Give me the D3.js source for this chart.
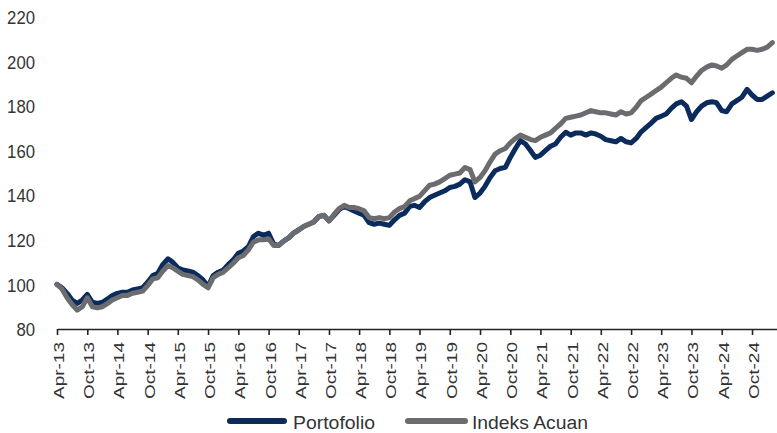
<!DOCTYPE html>
<html><head><meta charset="utf-8">
<script src="https://cdn.jsdelivr.net/npm/d3@7"></script>
<style>html,body{margin:0;padding:0;background:#fff;} svg{display:block;}</style>
</head><body><svg id="chart" width="777" height="433"></svg>
<script>
// ---- data ----
const startMonth = "Apr-13";
const portofolio = [
100, 98.5, 96, 93, 91.5, 93, 95.5, 92, 91.5, 92,
93.5, 95, 96, 96.5, 96.5, 97.5, 98, 98.5, 101, 104,
105, 109, 111.5, 110, 107.5, 106.5, 106, 105.5, 104, 102,
99, 104, 105.5, 106.5, 109, 111, 114, 115, 117, 121.5,
123, 122, 123, 118, 117.5, 119.5, 121, 123, 124.5, 126,
127, 128, 130.5, 131, 128.5, 131, 133.5, 135, 134, 133,
132, 131, 127.7, 127, 127.5, 127, 126.5, 129, 131, 132,
135, 135.5, 134.5, 137, 139, 140, 141, 142, 143.5, 144,
145, 147, 146, 139, 141, 144, 148, 151, 152, 152.5,
157, 161, 164.5, 163, 160, 157, 158, 160, 162, 163,
166, 168.3, 167, 168, 168, 167, 168, 167.5, 166.5, 165,
164.5, 164, 165.5, 164, 163.5, 165.5, 168.5, 170.5, 172.5, 174.5,
175.5, 176.5, 179, 181, 182, 180, 174, 177.5, 180, 181.5,
182, 181.5, 178, 177.5, 181, 182.5, 184, 187.5, 185, 183,
183, 184.5, 186
];
const indeksAcuan = [
100, 98, 94, 91, 88.5, 90, 94, 90, 89.5, 90,
91.5, 93, 94, 95, 95, 96, 96.5, 97, 99.5, 102.5,
103, 106, 108.5, 107.5, 106, 104.5, 104, 103.5, 102, 100,
98.5, 103, 104.5, 105.5, 107.5, 109.5, 112, 113, 115.5, 119,
120, 120, 120.5, 117.5, 117.5, 119.5, 121, 123, 124.5, 126,
127, 128, 130.5, 131, 128.5, 131.5, 134, 135.5, 134.5, 134.5,
134, 133, 130, 129.5, 130, 129.5, 130, 132.5, 134, 135,
137.5, 138.5, 139.5, 142, 144.5, 145, 146, 147.5, 149, 149.5,
150, 152.5, 151.5, 146, 148, 151, 155, 158.5, 160, 161,
163.5, 165.5, 167, 166, 165, 164.5, 166, 167, 168, 170,
172, 174.5, 175, 175.5, 176, 177, 178, 177.5, 177, 177,
176.5, 176, 177.5, 176.5, 177, 179.5, 182.5, 184, 185.5, 187,
188.5, 190.5, 192.5, 194, 193, 192.5, 190.5, 193.5, 196, 197.5,
198.5, 198, 197, 198.5, 201, 202.5, 204, 205.5, 205.5, 205,
205.5, 206.5, 208.5
];
const yTicks = [80, 100, 120, 140, 160, 180, 200, 220];
const xTickLabels = ["Apr-13","Oct-13","Apr-14","Oct-14","Apr-15","Oct-15","Apr-16","Oct-16",
  "Apr-17","Oct-17","Apr-18","Oct-18","Apr-19","Oct-19","Apr-20","Oct-20","Apr-21","Oct-21",
  "Apr-22","Oct-22","Apr-23","Oct-23","Apr-24","Oct-24"];
const seriesNames = ["Portofolio", "Indeks Acuan"];
const seriesColors = ["#0b2b5c", "#6b6c6f"];

// ---- chart ----
const FONT = "'Liberation Sans Narrow','Arial Narrow','Liberation Sans',Arial,sans-serif";
const parse = d3.timeParse("%b-%y");
const fmt = d3.timeFormat("%b-%y");
const t0 = parse(startMonth);
const dates = d3.range(portofolio.length).map(i => d3.timeMonth.offset(t0, i));
const x = d3.scaleTime().domain([t0, d3.timeMonth.offset(t0, 143)]).range([57, 777]);
const y = d3.scaleLinear().domain([80, 220]).range([329, 17]);

const svg = d3.select("#chart");

// y labels
const gy = svg.append("g").attr("transform", "translate(35,0)")
  .call(d3.axisLeft(y).tickValues(yTicks).tickSize(0).tickPadding(0));
gy.select(".domain").remove();
gy.selectAll("text").attr("font-family", FONT).attr("font-size", 18.5).attr("fill", "#333")
  .attr("dy", "0.36em")
  .attr("textLength", d => String(d).length * 9.3).attr("lengthAdjust", "spacingAndGlyphs");

// lines
const series = [portofolio, indeksAcuan];
const line = d3.line().x((d, i) => x(dates[i])).y(d => y(d));
series.forEach((s, k) => {
  svg.append("path").datum(s).attr("d", line).attr("fill", "none")
    .attr("stroke", seriesColors[k]).attr("stroke-width", 5)
    .attr("stroke-linejoin", "round").attr("stroke-linecap", "round");
});

// x axis
const gx = svg.append("g").attr("transform", "translate(0,329)")
  .call(d3.axisBottom(x).tickValues(xTickLabels.map(parse)).tickSize(6).tickSizeOuter(0).tickFormat(fmt));
gx.select(".domain").attr("stroke", "#222").attr("stroke-width", 1.6);
gx.selectAll(".tick line").attr("stroke", "#222").attr("stroke-width", 1.6);
gx.selectAll("text")
  .attr("font-family", FONT).attr("font-size", 15).attr("fill", "#333")
  .attr("transform", "rotate(-90)")
  .attr("text-anchor", "end")
  .attr("x", -13).attr("y", 6.5).attr("dy", null)
  .attr("textLength", 57).attr("lengthAdjust", "spacingAndGlyphs");

// legend
const legend = [
  {x1: 230, x2: 284, tx: 293, tl: 82},
  {x1: 408, x2: 465, tx: 472, tl: 116}
];
legend.forEach((l, k) => {
  svg.append("line").attr("x1", l.x1).attr("x2", l.x2).attr("y1", 421).attr("y2", 421)
    .attr("stroke", seriesColors[k]).attr("stroke-width", 6).attr("stroke-linecap", "round");
  svg.append("text").attr("x", l.tx).attr("y", 429).text(seriesNames[k])
    .attr("font-family", FONT).attr("font-size", 18).attr("fill", "#333")
    .attr("textLength", l.tl).attr("lengthAdjust", "spacingAndGlyphs");
});
</script></body></html>
